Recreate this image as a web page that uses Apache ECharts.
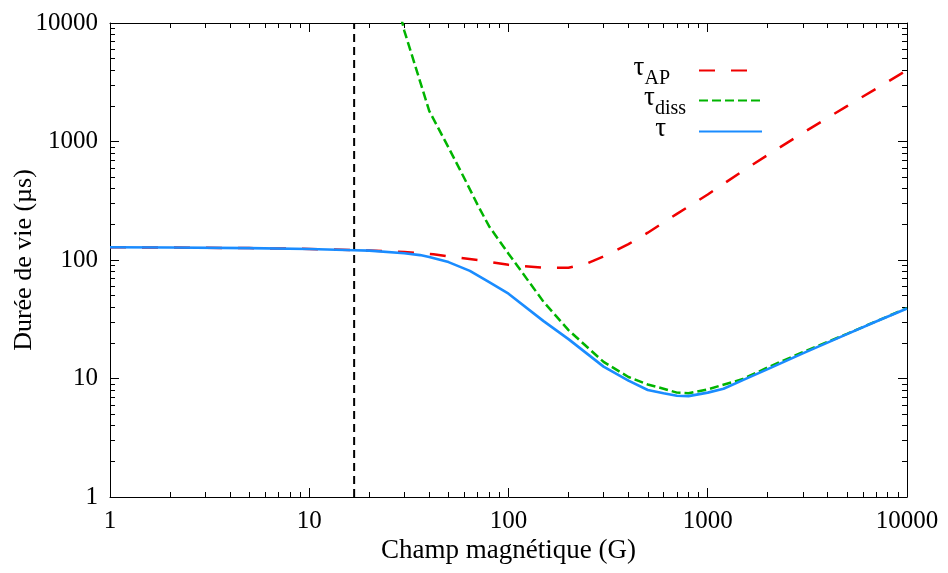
<!DOCTYPE html>
<html><head><meta charset="utf-8">
<script src="https://cdn.jsdelivr.net/npm/echarts@6/dist/echarts.min.js"></script>
<style>html,body{margin:0;padding:0;background:#fff}#c{width:948px;height:573px}</style>
</head><body><div id="c"></div>
<script>
// ---- data ----
const xTicks = [1, 10, 100, 1000, 10000];
const yTicks = [1, 10, 100, 1000, 10000];
const seriesNames = ['τAP', 'τdiss', 'τ'];

const apField = [1, 2, 5, 10, 16.8, 20, 30, 42, 50, 70, 100, 150, 200, 250, 300, 400, 500, 700, 1000, 1500, 2000, 3000, 5000, 7000, 10000];
const apLife  = [128, 127.5, 126, 124, 121, 120, 117, 112, 107, 100, 91, 86, 86, 94, 107, 136, 170, 245, 357, 565, 770, 1180, 1990, 2790, 4000];

const dissField = [25, 30, 40, 50, 60, 70, 80, 100, 150, 200, 300, 400, 500, 600, 700, 800, 1000, 1500, 2000, 3000, 5000, 7000, 10000];
const dissLife  = [30000, 8600, 1815, 890, 490, 292, 192, 113, 44.3, 25.6, 13.8, 10.3, 8.9, 8.2, 7.6, 7.5, 8.1, 9.9, 12.4, 16.7, 23.8, 30.4, 39.2];

const tauField = [1, 2, 5, 10, 16.8, 20, 30, 36, 40, 50, 64, 80, 100, 150, 200, 300, 400, 500, 600, 700, 800, 1000, 1200, 1500, 2000, 3000, 5000, 7000, 10000];
const tauLife  = [128, 127.5, 126, 124, 121, 120, 114, 110, 106, 96, 81, 65, 52, 30.5, 21.5, 12.6, 9.6, 8.0, 7.5, 7.15, 7.1, 7.6, 8.2, 9.7, 12.0, 16.3, 23.7, 30.3, 39];

const thresholdField = 16.8;

// ---- chart ----
const FONT = 'Liberation Serif';
const pairs = (xs, ys) => xs.map((x, i) => [x, ys[i]]);

function mkAxis(ticks, pos, showLabel, extra) {
  return Object.assign({
    type: 'log', logBase: 10,
    min: ticks[0], max: ticks[ticks.length - 1],
    position: pos, splitNumber: ticks.length - 1,
    axisLine: { show: true, onZero: false, lineStyle: { color: '#000', width: 1 } },
    axisTick: { show: true, inside: true, length: 9, lineStyle: { color: '#000', width: 1 } },
    minorTick: { show: true, splitNumber: 9, length: 5, lineStyle: { color: '#000', width: 1 } },
    splitLine: { show: false }, minorSplitLine: { show: false },
    axisLabel: { show: showLabel, margin: 12, fontFamily: FONT, fontSize: 25, color: '#000',
      formatter: v => String(v) }
  }, extra || {});
}

const rich = {
  t: { fontFamily: FONT, fontSize: 27, color: '#000', padding: [0, 0, 6, 0] },
  s: { fontFamily: FONT, fontSize: 20, color: '#000', padding: [16, 0, 0, 0] }
};
function mkLegend(name, top, gap) {
  return {
    data: [name], right: 180, top: top, orient: 'vertical', align: 'right',
    itemWidth: 63, itemHeight: 14, selectedMode: false,
    itemStyle: { opacity: 0 },
    textStyle: { fontFamily: FONT, color: '#000', rich: Object.assign({ g: { width: gap } }, rich) },
    formatter: n => (n.length > 1 ? '{t|τ}{s|' + n.slice(1) + '}' : '{t|τ}') + '{g|}'
  };
}

const chart = echarts.init(document.getElementById('c'), null, { renderer: 'canvas' });
chart.setOption({
  animation: false,
  backgroundColor: '#fff',
  grid: { left: 110, right: 41, top: 23, bottom: 76, containLabel: false, outerBoundsMode: 'none' },
  legend: [mkLegend(seriesNames[0], 49, 24), mkLegend(seriesNames[1], 79, 8), mkLegend(seriesNames[2], 110, 28)],
  xAxis: [
    mkAxis(xTicks, 'bottom', true, {
      name: 'Champ magnétique (G)', nameLocation: 'middle', nameGap: 40, nameMoveOverlap: false,
      nameTextStyle: { fontFamily: FONT, fontSize: 27, color: '#000' } }),
    mkAxis(xTicks, 'top', false)
  ],
  yAxis: [
    mkAxis(yTicks, 'left', true, {
      name: 'Durée de vie (µs)', nameLocation: 'middle', nameGap: 73, nameRotate: 90, nameMoveOverlap: false,
      nameTextStyle: { fontFamily: FONT, fontSize: 26, color: '#000' } }),
    mkAxis(yTicks, 'right', false)
  ],
  series: [
    { name: seriesNames[0], type: 'line', data: pairs(apField, apLife), showSymbol: false, symbol: 'none',
      clip: true, z: 2,
      lineStyle: { color: '#f00000', width: 2.5, type: [16, 16] }, itemStyle: { color: '#f00000' } },
    { name: seriesNames[1], type: 'line', data: pairs(dissField, dissLife), showSymbol: false, symbol: 'none',
      clip: true, z: 3,
      lineStyle: { color: '#00b400', width: 2.5, type: [9, 4] }, itemStyle: { color: '#00b400' } },
    { name: seriesNames[2], type: 'line', data: pairs(tauField, tauLife), showSymbol: false, symbol: 'none',
      clip: true, z: 4,
      lineStyle: { color: '#1a8cff', width: 2.6 }, itemStyle: { color: '#1a8cff' } },
    { name: 'seuil', type: 'line', data: [[thresholdField, yTicks[0]], [thresholdField, yTicks[yTicks.length - 1]]],
      showSymbol: false, symbol: 'none', clip: true, z: 1, silent: true,
      lineStyle: { color: '#000', width: 2, type: [8, 5] } }
  ]
});
</script>
</body></html>
